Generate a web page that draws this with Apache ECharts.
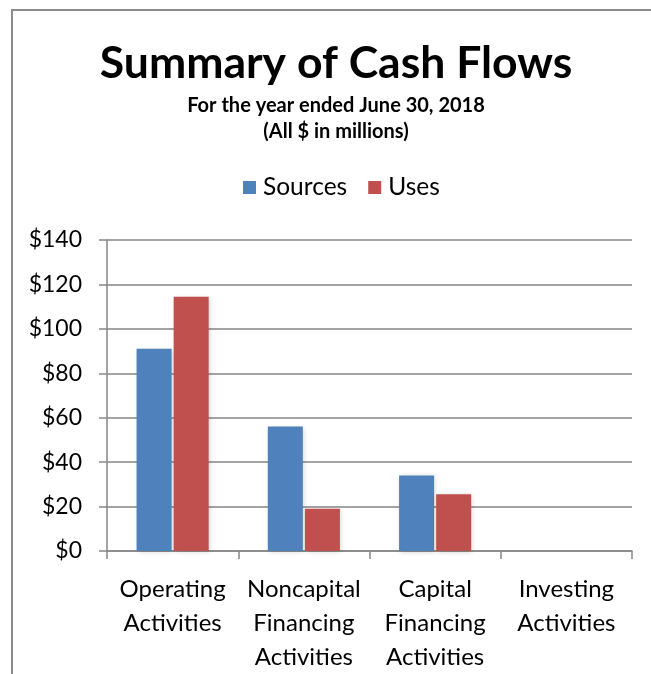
<!DOCTYPE html>
<html>
<head>
<meta charset="utf-8">
<script src="https://cdn.jsdelivr.net/npm/echarts@6/dist/echarts.min.js"></script>
<style>
html,body{margin:0;padding:0;background:#fff;}
#chart{width:651px;height:674px;}
</style>
</head>
<body>
<div id="chart"></div>
<script>
var categories = ["Operating\nActivities", "Noncapital\nFinancing\nActivities", "Capital\nFinancing\nActivities", "Investing\nActivities"];
var sources = [91, 56, 34, 0];
var uses = [114.5, 19, 25.5, 0];
var seriesNames = ["Sources", "Uses"];
var yTicks = {min: 0, max: 140, interval: 20};
var titleText = 'Summary of Cash Flows';
var subLines = ['For the year ended June 30, 2018', '(All $ in millions)'];

var FONT = "Lato";
var CX = 336;
var chart = echarts.init(document.getElementById('chart'));
chart.setOption({
  animation: false,
  backgroundColor: '#ffffff',
  graphic: [
    {type: 'rect', shape: {x: 12, y: 10, width: 700, height: 700},
     style: {fill: 'none', stroke: '#8c8c8c', lineWidth: 2}, silent: true, z: -1},
    {type: 'text', x: CX, y: 41, silent: true,
     style: {text: titleText, align: 'center', verticalAlign: 'top',
             font: 'bold 44.5px Lato', fill: '#000'}},
    {type: 'text', x: CX, y: 96, silent: true,
     style: {text: subLines[0], align: 'center', verticalAlign: 'top',
             font: 'bold 20px Lato', fill: '#000'}},
    {type: 'text', x: CX, y: 122, silent: true,
     style: {text: subLines[1], align: 'center', verticalAlign: 'top',
             font: 'bold 20px Lato', fill: '#000'}}
  ],
  legend: {
    data: seriesNames, left: 238, top: 170,
    icon: 'rect', itemWidth: 13, itemHeight: 13, itemGap: 21,
    textStyle: {fontFamily: FONT, fontSize: 24.5, color: '#000', padding: [0, 0, 0, 2]}
  },
  grid: {left: 107, right: 19, top: 240, bottom: 123, containLabel: false},
  xAxis: {
    type: 'category', data: categories,
    axisLine: {lineStyle: {color: '#868686', width: 1.5}},
    axisTick: {show: true, length: 8, lineStyle: {color: '#868686', width: 1.5}},
    axisLabel: {interval: 0, fontFamily: FONT, fontSize: 24, color: '#000', lineHeight: 34, margin: 21}
  },
  yAxis: {
    type: 'value', min: yTicks.min, max: yTicks.max, interval: yTicks.interval,
    axisLine: {show: true, lineStyle: {color: '#868686', width: 1.5}},
    axisTick: {show: true, length: 8, lineStyle: {color: '#868686', width: 1.5}},
    splitLine: {lineStyle: {color: '#868686', width: 1.5}},
    axisLabel: {fontFamily: FONT, fontSize: 23, color: '#000', margin: 25,
      formatter: function (v) { return '$' + v; }}
  },
  series: [
    {name: 'Sources', type: 'bar', data: sources, barWidth: 35, barGap: '6%',
     itemStyle: {color: '#4F81BD', shadowColor: 'rgba(0,0,0,0.18)', shadowBlur: 5, shadowOffsetX: 1, shadowOffsetY: 1}},
    {name: 'Uses', type: 'bar', data: uses, barWidth: 35, barGap: '6%',
     itemStyle: {color: '#C0504D', shadowColor: 'rgba(0,0,0,0.18)', shadowBlur: 5, shadowOffsetX: 1, shadowOffsetY: 1}}
  ]
});
</script>
</body>
</html>
